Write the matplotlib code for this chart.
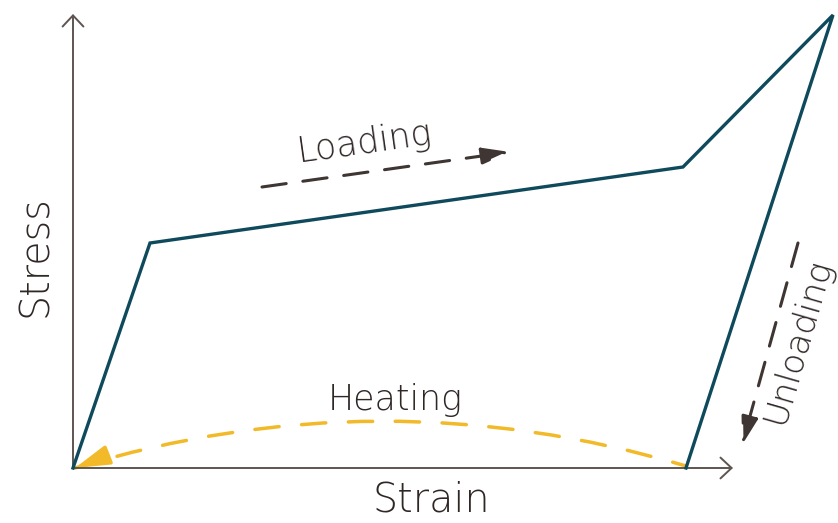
import matplotlib
matplotlib.use("Agg")
import matplotlib.pyplot as plt
from matplotlib.patches import FancyArrowPatch

# stress-strain path (strain, stress) in drawing units, origin at the axes corner
strain = [0, 77, 610, 760, 613]
stress = [0, 225, 301, 453, 0]

# heating return path: start, end and the bow of the arc
heat_start = (613, 2)
heat_end = (2, 0)
heat_bend = 0.15

# dashed direction arrows: (start, end)
loading_arrow = ((189, 281), (437, 316))
unloading_arrow = ((725, 225), (669, 23))

axis_top = 454
axis_right = 660

labels = {"x": "Strain", "y": "Stress", "load": "Loading",
          "unload": "Unloading", "heat": "Heating"}

teal = "#0e4a5b"
yellow = "#f2b928"
brown = "#3f3532"
text_col = "#2f2725"
axis_col = "#5e5450"

plt.rcParams['font.family'] = ['DejaVu Sans']

fig = plt.figure(figsize=(8.38, 5.23), dpi=100)
ax = fig.add_axes([0, 0, 1, 1])
ax.set_xlim(-73, 765)
ax.set_ylim(-55, 468)
ax.axis("off")

# axes with open arrowheads
for tip in ((0, axis_top), (axis_right, 0)):
    ax.annotate("", xy=tip, xytext=(0, 0),
                arrowprops=dict(arrowstyle="->,head_length=0.8,head_width=0.75",
                                color=axis_col, lw=1.4, shrinkA=0, shrinkB=0))

# main curve
ax.plot(strain, stress, color=teal, lw=2.4, solid_joinstyle="miter", zorder=3)

# heating arc
arc = FancyArrowPatch(heat_start, heat_end, connectionstyle=f"arc3,rad={heat_bend}",
                      arrowstyle="-", color=yellow, lw=2.5, linestyle=(3, (7, 6.5)),
                      shrinkA=0, shrinkB=0, zorder=2)
ax.add_patch(arc)
# solid head at the end of the arc, aligned with the arc tangent
ctrl_x = (heat_start[0] + heat_end[0]) / 2
ctrl_y = heat_bend * (heat_start[0] - heat_end[0])
dx, dy = heat_end[0] - ctrl_x, heat_end[1] - ctrl_y
n = (dx ** 2 + dy ** 2) ** 0.5
ax.annotate("", xy=heat_end, xytext=(heat_end[0] - 34 * dx / n, heat_end[1] - 34 * dy / n + 3),
            arrowprops=dict(arrowstyle="-|>,head_length=2.1,head_width=0.6",
                            color=yellow, lw=2.5, shrinkA=0, shrinkB=0), zorder=2)

# loading / unloading dashed arrows
for (a, b) in (loading_arrow, unloading_arrow):
    ax.annotate("", xy=b, xytext=a,
                arrowprops=dict(arrowstyle="-|>,head_length=1.7,head_width=0.5",
                                color=brown, lw=2.2, linestyle=(0, (8, 5.5)),
                                shrinkA=0, shrinkB=0))

# text
txt = dict(ha="center", va="baseline", rotation_mode="anchor", color=text_col,
           fontweight="light")
ax.text(293, 315, labels["load"], rotation=8, fontsize=25, **txt)
ax.text(734, 124, labels["unload"], rotation=74, fontsize=24.5, **txt)
ax.text(322, 58, labels["heat"], fontsize=25, **txt)
ax.text(358, -43, labels["x"], fontsize=28.5, **txt)
ax.text(-26, 212, labels["y"], rotation=90, fontsize=28.5, **txt)

fig.savefig("out.png", dpi=100)
